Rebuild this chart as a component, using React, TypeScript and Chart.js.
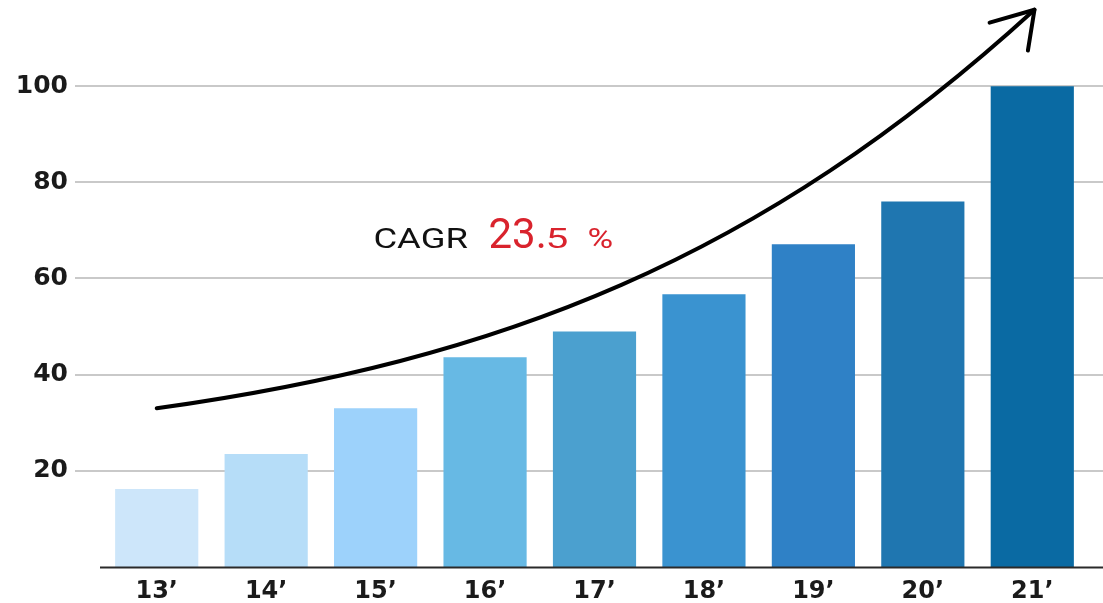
import React, { useEffect, useRef } from "react";
import { Chart, registerables } from "chart.js";

Chart.register(...registerables);

const categories = ["13’", "14’", "15’", "16’", "17’", "18’", "19’", "20’", "21’"];
const values = [16.2, 23.5, 33.0, 43.6, 49.0, 56.7, 67.1, 76.0, 100.0];
const barColors = [
  "#cde6fa",
  "#b6ddf8",
  "#9dd2fb",
  "#67b9e4",
  "#4ba0cf",
  "#3a93d0",
  "#2f81c6",
  "#1f76b0",
  "#0a6aa3",
];
const yTickValues = [20, 40, 60, 80, 100];
// Arrow curve (cubic Bezier) in data coordinates: [category index, value]
const arrowCurve = [
  [0, 33.0],
  [3.14, 43.0],
  [5.51, 63.8],
  [8.02, 115.9],
];
const arrowHeadArms = [
  [7.61, 113.2],
  [7.96, 107.4],
];
const cagrLabel = "CAGR";
const cagrBig = "23.";
const cagrSmall1 = "5";
const cagrSmall2 = "%";
const cagrAnchor = [1.98, 66.3];

function drawStretched(ctx: any, text: string, x: number, y: number, font: string, sx: number) {
  ctx.save();
  ctx.font = font;
  ctx.translate(x, y);
  ctx.scale(sx, 1);
  ctx.fillText(text, 0, 0);
  ctx.restore();
}

const overlayPlugin = {
  id: "overlay",
  beforeDatasetsDraw(chart: any) {
    const { ctx, chartArea, scales } = chart;
    const y = scales.y;
    ctx.save();
    ctx.strokeStyle = "#c9c9c9";
    ctx.lineWidth = 2;
    yTickValues.forEach((v) => {
      const py = Math.round(y.getPixelForValue(v));
      ctx.beginPath();
      ctx.moveTo(chartArea.left - 27, py);
      ctx.lineTo(chart.width, py);
      ctx.stroke();
    });
    ctx.restore();
  },
  afterDatasetsDraw(chart: any) {
    const { ctx, chartArea, scales } = chart;
    const x = scales.x;
    const y = scales.y;
    ctx.save();
    // x axis line
    const py0 = Math.round(y.getPixelForValue(0)) + 0.5;
    ctx.strokeStyle = "#2a2a2a";
    ctx.lineWidth = 2;
    ctx.beginPath();
    ctx.moveTo(chartArea.left - 2, py0);
    ctx.lineTo(chart.width, py0);
    ctx.stroke();

    // arrow curve
    const pts = arrowCurve.map(([i, v]) => [x.getPixelForValue(i), y.getPixelForValue(v)]);
    ctx.strokeStyle = "#000";
    ctx.lineWidth = 4;
    ctx.lineCap = "round";
    ctx.lineJoin = "round";
    ctx.beginPath();
    ctx.moveTo(pts[0][0], pts[0][1]);
    ctx.bezierCurveTo(pts[1][0], pts[1][1], pts[2][0], pts[2][1], pts[3][0], pts[3][1]);
    ctx.stroke();
    const tip = pts[3];
    ctx.beginPath();
    arrowHeadArms.forEach(([i, v]) => {
      ctx.moveTo(x.getPixelForValue(i), y.getPixelForValue(v));
      ctx.lineTo(tip[0], tip[1]);
    });
    ctx.stroke();

    // CAGR text
    const tx = x.getPixelForValue(cagrAnchor[0]);
    const ty = y.getPixelForValue(cagrAnchor[1]);
    ctx.textBaseline = "alphabetic";
    ctx.textAlign = "left";
    ctx.fillStyle = "#111";
    drawStretched(ctx, cagrLabel, tx, ty, "28px Roboto", 1.3);
    ctx.fillStyle = "#d9232d";
    drawStretched(ctx, cagrBig, tx + 115, ty, "42px Roboto", 1.0);
    drawStretched(ctx, cagrSmall1, tx + 172, ty, "28px Roboto", 1.45);
    drawStretched(ctx, cagrSmall2, tx + 214, ty, "28px Roboto", 1.25);
    ctx.restore();
  },
};

export default function App() {
  const ref = useRef<HTMLCanvasElement | null>(null);
  useEffect(() => {
    if (!ref.current) return;
    const chart = new Chart(ref.current, {
      type: "bar",
      data: {
        labels: categories,
        datasets: [
          {
            data: values,
            backgroundColor: barColors,
            borderWidth: 0,
            categoryPercentage: 1,
            barPercentage: 0.76,
          },
        ],
      },
      options: {
        animation: false,
        responsive: false,
        layout: { padding: { left: 0, right: 16, top: 0, bottom: 0 } },
        plugins: { legend: { display: false }, tooltip: { enabled: false } },
        scales: {
          x: {
            grid: { display: false, drawTicks: false },
            border: { display: false },
            afterFit: (scale: any) => {
              scale.height = 36;
            },
            ticks: {
              color: "#1a1a1a",
              padding: 10,
              font: { family: "DejaVu Sans", size: 24, weight: "bold" },
            },
          },
          y: {
            min: 0,
            max: 114.8,
            grid: { display: false, drawTicks: true, tickLength: 34 },
            border: { display: false },
            afterBuildTicks: (scale: any) => {
              scale.ticks = yTickValues.map((v) => ({ value: v }));
            },
            afterFit: (scale: any) => {
              scale.width = 102;
            },
            ticks: {
              color: "#1a1a1a",
              padding: 0,
              font: { family: "DejaVu Sans", size: 25, weight: "bold" },
            },
          },
        },
      },
      plugins: [overlayPlugin],
    });
    return () => chart.destroy();
  }, []);
  return (
    <div style={{ position: "fixed", left: 0, top: 0, width: 1103, height: 603, background: "#fff" }}>
      <canvas ref={ref} width={1103} height={603} style={{ display: "block" }} />
    </div>
  );
}
